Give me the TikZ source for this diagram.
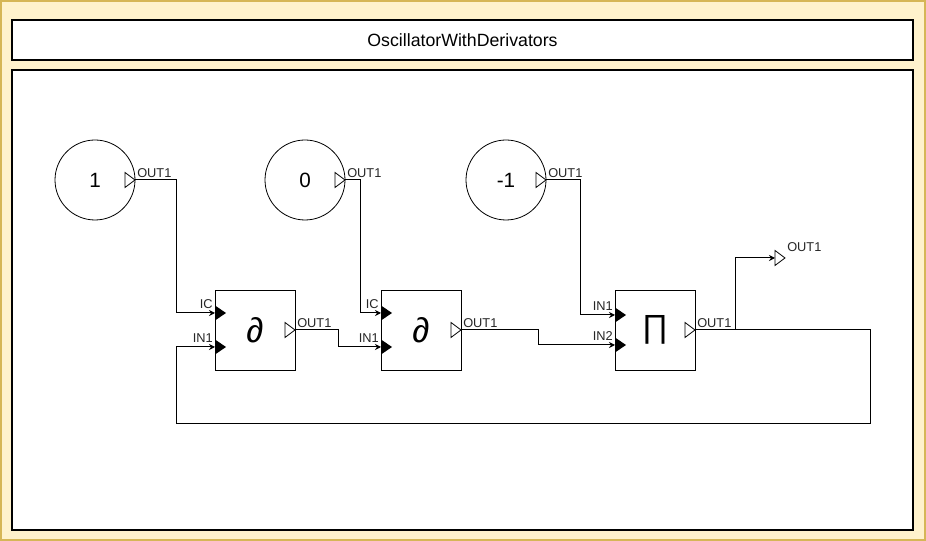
\documentclass[tikz,border=0pt]{standalone}
\usepackage{fontspec}
\setmainfont{Liberation Sans}
\usetikzlibrary{arrows.meta}
\definecolor{yfill}{HTML}{FFF2CC}
\definecolor{yline}{HTML}{D6B656}
\tikzset{
  box/.style={draw=black, line width=0.9pt, fill=white},
  wire/.style={draw=black, line width=0.75pt},
  arr/.style={wire, -{Stealth[length=4.5pt,width=4.5pt]}},
  plabel/.style={font=\fontsize{9.6}{10}\selectfont, text=black!85, inner sep=0pt},
  outtri/.style={draw=black, line width=0.6pt, fill=white},
  intri/.style={fill=black},
  constnode/.style={draw, circle, line width=0.6pt, minimum size=60pt, inner sep=0pt, font=\fontsize{15.5}{17}\selectfont},
  blocknode/.style={draw, line width=0.6pt, minimum width=60pt, minimum height=60pt, inner sep=0pt},
}
\begin{document}
\begin{tikzpicture}[x=0.75pt,y=-0.75pt]
\useasboundingbox (0,0) rectangle (926,541);
% frames
\draw[fill=yfill, draw=yline, line width=1.2pt] (1,1) rectangle (925,540);
\draw[box] (12,20) rectangle (913,60);
\node[font=\fontsize{13.3}{15}\selectfont] (title) at (462.5,40) {OscillatorWithDerivators};
\draw[box] (12,70) rectangle (913,530);

% constants
\node[constnode] (c1) at (95,180) {1};
\node[constnode] (c0) at (305,180) {0};
\node[constnode] (cm) at (506,180) {-1};
\coordinate (c1o) at (135,180);
\coordinate (c0o) at (345,180);
\coordinate (cmo) at (546,180);
\foreach \p in {c1o,c0o,cmo}{
  \draw[outtri] ([shift={(-10,-7.5)}]\p) -- ([shift={(-10,7.5)}]\p) -- (\p) -- cycle;
  \node[plabel, anchor=base west] at ([shift={(2,-2.5)}]\p) {OUT1};
}

% blocks
\node[blocknode, font=\fontsize{26}{28}\selectfont] (b1) at (255,330) {∂};
\node[blocknode, font=\fontsize{26}{28}\selectfont] (b2) at (421,330) {∂};
\node[blocknode, font=\fontsize{24}{26}\selectfont] (b3) at (655,330) {∏};

% input ports
\coordinate (b1ic) at (215,313);
\coordinate (b1in) at (215,347);
\coordinate (b2ic) at (381,313);
\coordinate (b2in) at (381,347);
\coordinate (b3in1) at (615,315);
\coordinate (b3in2) at (615,345);
\foreach \p/\t in {b1ic/IC,b1in/IN1,b2ic/IC,b2in/IN1,b3in1/IN1,b3in2/IN2}{
  \fill[intri] ([shift={(0,-7.5)}]\p) -- ([shift={(0,7.5)}]\p) -- ([shift={(11,0)}]\p) -- cycle;
  \node[plabel, anchor=base east] at ([shift={(-2,-4)}]\p) {\t};
}
% output ports
\coordinate (b1o) at (295,330);
\coordinate (b2o) at (461,330);
\coordinate (b3o) at (695,330);
\foreach \p in {b1o,b2o,b3o}{
  \draw[outtri] ([shift={(-10,-7.5)}]\p) -- ([shift={(-10,7.5)}]\p) -- (\p) -- cycle;
  \node[plabel, anchor=base west] at ([shift={(2,-2.5)}]\p) {OUT1};
}
% system output
\coordinate (so) at (775,258);
\draw[outtri] ([shift={(0,-7.5)}]so) -- ([shift={(0,7.5)}]so) -- ([shift={(10,0)}]so) -- cycle;
\node[plabel, anchor=base west] (solab) at ([shift={(12,-6)}]so) {OUT1};

% connectors
\draw[arr] (c1o) -| (176,313) -- (b1ic);
\draw[arr] (c0o) -| (360,313) -- (b2ic);
\draw[arr] (cmo) -| (580,315) -- (b3in1);
\draw[arr] (b1o) -| (338,347) -- (b2in);
\draw[arr] (b2o) -| (538,345) -- (b3in2);
\draw[arr] (b3o) -- (870,330) -- (870,424) -- (176,424) -- (176,347) -- (b1in);
\draw[arr] (735,330) -- (735,258) -- (so);
\end{tikzpicture}
\end{document}
